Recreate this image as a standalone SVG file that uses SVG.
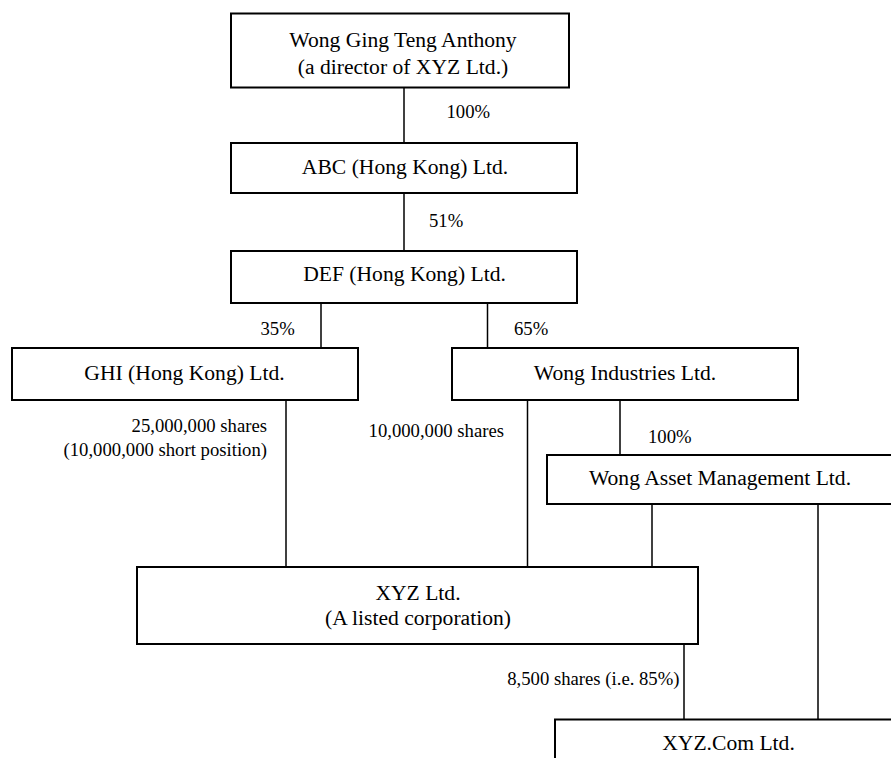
<svg xmlns="http://www.w3.org/2000/svg" width="891" height="758" viewBox="0 0 891 758">
<style>
.box{fill:#fff;stroke:#000;stroke-width:2}
.n{font-family:"Liberation Serif","Times New Roman",serif;font-size:21.6px;fill:#000;text-anchor:middle}
.l{font-family:"Liberation Serif","Times New Roman",serif;font-size:18.7px;fill:#000}
.c{stroke:#000;stroke-width:1.5;fill:none}
</style>
<rect width="891" height="758" fill="#fff"/>
<g id="connectors">
<line class="c" x1="404" y1="87" x2="404" y2="143"/>
<line class="c" x1="404" y1="193" x2="404" y2="251"/>
<line class="c" x1="321" y1="303" x2="321" y2="348"/>
<line class="c" x1="487.5" y1="303" x2="487.5" y2="348"/>
<line class="c" x1="286" y1="400" x2="286" y2="567"/>
<line class="c" x1="527.5" y1="400" x2="527.5" y2="567"/>
<line class="c" x1="620" y1="400" x2="620" y2="455"/>
<line class="c" x1="652" y1="504" x2="652" y2="567"/>
<line class="c" x1="818" y1="504" x2="818" y2="719.5"/>
<line class="c" x1="684" y1="644" x2="684" y2="719.5"/>
<text class="l" x="446.5" y="118">100%</text>
<text class="l" x="429" y="227">51%</text>
<text class="l" x="260.5" y="335">35%</text>
<text class="l" x="514" y="335">65%</text>
<text class="l" x="267" y="432" text-anchor="end">25,000,000 shares</text>
<text class="l" x="267" y="456" text-anchor="end">(10,000,000 short position)</text>
<text class="l" x="504" y="437" text-anchor="end">10,000,000 shares</text>
<text class="l" x="648" y="443">100%</text>
<text class="l" x="679.5" y="685" text-anchor="end">8,500 shares (i.e. 85%)</text>
</g>
<g id="wong">
<rect class="box" x="231" y="13.5" width="338" height="74"/>
<text class="n" x="403" y="47">Wong Ging Teng Anthony</text>
<text class="n" x="403" y="74">(a director of XYZ Ltd.)</text>
</g>
<g id="abc">
<rect class="box" x="231" y="143" width="346" height="50"/>
<text class="n" x="405" y="173.5">ABC (Hong Kong) Ltd.</text>
</g>
<g id="def">
<rect class="box" x="231" y="251" width="346" height="52"/>
<text class="n" x="404.5" y="281">DEF (Hong Kong) Ltd.</text>
</g>
<g id="ghi">
<rect class="box" x="12" y="348" width="346" height="52"/>
<text class="n" x="184.5" y="379.5">GHI (Hong Kong) Ltd.</text>
</g>
<g id="wongind">
<rect class="box" x="452" y="348" width="346" height="52"/>
<text class="n" x="625" y="379.5">Wong Industries Ltd.</text>
</g>
<g id="wam">
<rect class="box" x="547" y="455" width="346" height="49"/>
<text class="n" x="720" y="485">Wong Asset Management Ltd.</text>
</g>
<g id="xyz">
<rect class="box" x="137" y="567" width="561" height="77"/>
<text class="n" x="418" y="599.5">XYZ Ltd.</text>
<text class="n" x="418" y="625">(A listed corporation)</text>
</g>
<g id="xyzcom">
<rect class="box" x="555" y="719.5" width="347" height="60"/>
<text class="n" x="728.5" y="750">XYZ.Com Ltd.</text>
</g>
</svg>
